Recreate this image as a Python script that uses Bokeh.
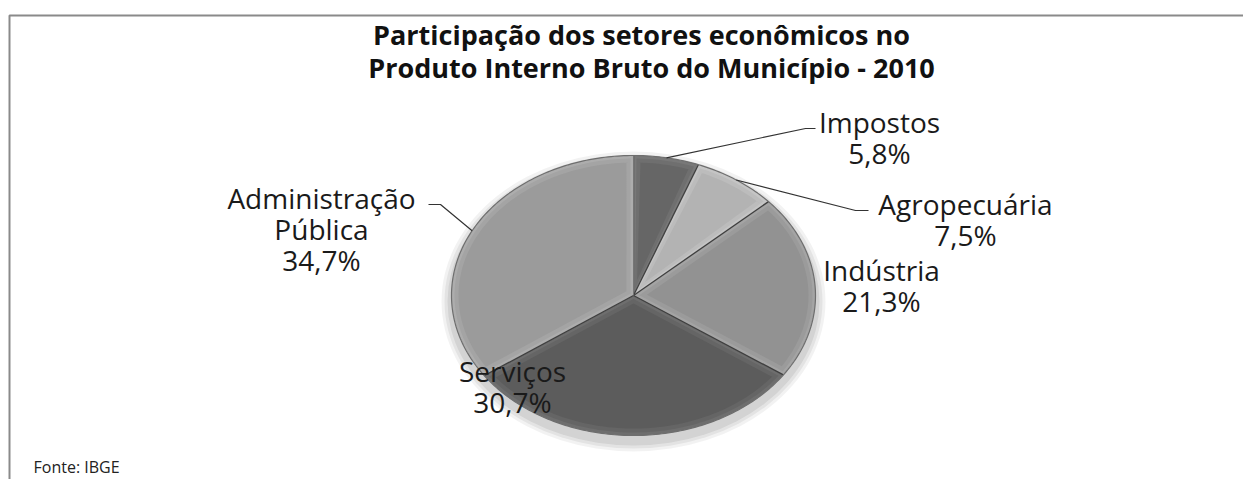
import math
from bokeh.plotting import figure
from bokeh.models import Range1d
from bokeh.core.properties import value
from bokeh.embed import file_html
from bokeh.resources import INLINE

# ---- data ----
categories = ["Impostos", "Agropecuária", "Indústria", "Serviços", "Administração Pública"]
shares = [5.8, 7.5, 21.3, 30.7, 34.7]
label_lines = [["Impostos", "5,8%"], ["Agropecuária", "7,5%"], ["Indústria", "21,3%"],
               ["Serviços", "30,7%"], ["Administração", "Pública", "34,7%"]]
title_lines = ["Participação dos setores econômicos no", "Produto Interno Bruto do Município - 2010"]
source_note = "Fonte: IBGE"

# ---- style / layout ----
W, H = 1243, 479
colors = ["#666666", "#b3b3b3", "#929292", "#5c5c5c", "#9b9b9b"]
CX, CY = 633, 295
RX, RY = 182, 140
FONT = "Open Sans"

p = figure(width=W, height=H, output_backend="svg", toolbar_location=None,
           x_range=Range1d(0, W), y_range=Range1d(H, 0),
           min_border=0, min_border_left=0, min_border_right=0,
           min_border_top=0, min_border_bottom=0)
p.axis.visible = False
p.grid.visible = False
p.outline_line_color = None
p.background_fill_color = "white"
p.border_fill_color = "white"

# frame border (top + left)
p.line([9, 9, W], [H, 15, 15], line_color="#8a8a8a", line_width=2)


def shade(hexc, d):
    v = int(hexc[1:3], 16)
    v = max(0, min(255, v + d))
    return "#%02x%02x%02x" % (v, v, v)


def ell(theta, dr=0.0):
    # theta: clockwise from 12 o'clock
    return CX + (RX - dr) * math.sin(theta), CY - (RY - dr) * math.cos(theta)


def inset(poly, d):
    n = len(poly)
    area = 0
    for i in range(n):
        x1, y1 = poly[i]; x2, y2 = poly[(i + 1) % n]
        area += x1 * y2 - x2 * y1
    sgn = 1 if area > 0 else -1
    normals = []
    for i in range(n):
        x1, y1 = poly[i]; x2, y2 = poly[(i + 1) % n]
        dx, dy = x2 - x1, y2 - y1
        L = math.hypot(dx, dy) or 1e-9
        nx, ny = -dy / L * sgn, dx / L * sgn
        normals.append((nx, ny))
    out = []
    for i in range(n):
        n1 = normals[i - 1]; n2 = normals[i]
        dot = n1[0] * n2[0] + n1[1] * n2[1]
        k = d / (1 + dot) if (1 + dot) > 0.2 else d / 0.2
        out.append((poly[i][0] + k * (n1[0] + n2[0]), poly[i][1] + k * (n1[1] + n2[1])))
    return out


# shadow under the pie
for k, a in [(10, 0.05), (7, 0.06), (4, 0.07)]:
    p.ellipse(x=CX, y=CY + 6, width=2 * (RX + k), height=2 * (RY + k), fill_color="#000000",
              fill_alpha=a, line_color=None)

total = sum(shares)
angles = []
cum = 0.0
for s in shares:
    a0 = cum / total * 2 * math.pi
    cum += s
    a1 = cum / total * 2 * math.pi
    angles.append((a0, a1))

for (a0, a1), col in zip(angles, colors):
    nseg = max(8, int((a1 - a0) / (2 * math.pi) * 240))
    poly = [(CX, CY)] + [ell(a0 + (a1 - a0) * j / nseg) for j in range(nseg + 1)]
    layers = [(0, shade(col, 18)), (3, shade(col, 9)), (7, col)]
    for d, c in layers:
        pp = inset(poly, d) if d else poly
        p.patch([q[0] for q in pp], [q[1] for q in pp], fill_color=c, line_color=None)
    x0, y0 = ell(a0)
    p.line([CX, x0], [CY, y0], line_color="#3f3f3f", line_width=1.3)

# outer rim
rim = [ell(2 * math.pi * j / 360) for j in range(361)]
p.line([q[0] for q in rim], [q[1] for q in rim], line_color="#6e6e6e", line_width=1.2)

# leader lines (start at slice mid-angle on the rim)
leader_ends = {0: [(805, 128), (815, 128)], 1: [(855, 210), (868, 210)], 4: [(440, 204), (428, 204)]}
for idx, pts in leader_ends.items():
    a0, a1 = angles[idx]
    sx, sy = ell((a0 + a1) / 2)
    p.line([sx] + [q[0] for q in pts], [sy] + [q[1] for q in pts],
           line_color="#333333", line_width=1.2)

# data labels (baseline positions, corrected for renderer's baseline offset)
label_pos = [(879, 129), (965, 211), (881, 277), (512, 378), (321, 205)]
LH = 31
LBL_SIZE = 28
shift = round(0.3 * LBL_SIZE)
for lines, (lx, ly) in zip(label_lines, label_pos):
    p.text(x=[lx] * len(lines), y=[ly - shift + i * LH for i in range(len(lines))], text=lines,
           text_align="center", text_baseline="alphabetic",
           text_font=value(FONT), text_font_size="%dpx" % LBL_SIZE, text_color="#1a1a1a")

# title
p.text(x=[641, 651], y=[42 - 8, 75 - 8], text=title_lines,
       text_align="center", text_baseline="alphabetic", text_font=value(FONT),
       text_font_style="bold", text_font_size="27px", text_color="#111111")

# source
p.text(x=[33], y=[466], text=[source_note], text_align="left",
       text_baseline="alphabetic", text_font=value(FONT), text_font_size="16px",
       text_color="#222222")

open("out.html", "w").write(file_html(p, INLINE))
